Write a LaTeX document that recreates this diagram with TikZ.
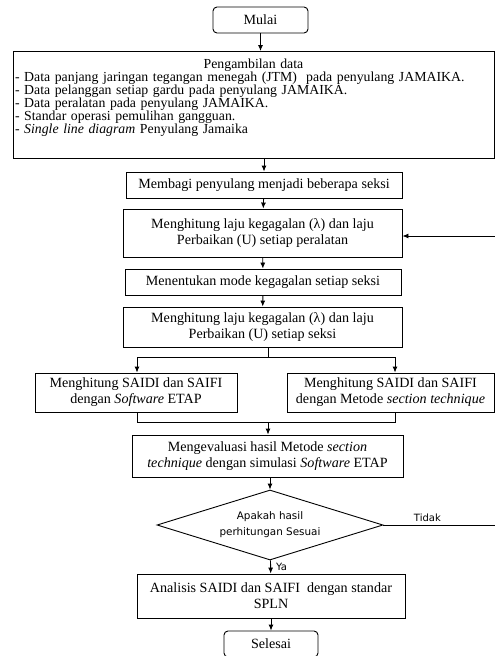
\documentclass[tikz,border=0pt]{standalone}
\usepackage{fontspec}
\setmainfont{Liberation Serif}
\newfontfamily\diafont{DejaVu Sans}
\usetikzlibrary{arrows.meta, shapes.geometric}

\tikzset{
  box/.style={draw, line width=0.9pt, align=center, inner sep=0pt, font=\fontsize{14.1}{16}\selectfont},
  term/.style={box, rounded corners=4pt},
  decide/.style={draw, line width=0.9pt, diamond, aspect=3.2, inner sep=0pt, align=center, font=\diafont\fontsize{10.4}{16}\selectfont},
  lbl/.style={font=\diafont\fontsize{10}{12}\selectfont, inner sep=1pt},
  arr/.style={line width=0.9pt, -{Latex[length=6pt,width=5pt]}},
  line/.style={line width=0.9pt},
}

\begin{document}
\begin{tikzpicture}[x=1pt, y=-1pt]
    \fill[white] (0,0) rectangle (495,656);
    \useasboundingbox (0,0) rectangle (495,656);

    % kotak-kotak diagram alir
    \node[term, minimum width=95pt, minimum height=26pt] (mulai) at (260.5,20) {Mulai};
    \node[box, anchor=north, text width=477pt, align=left, inner xsep=2pt, text height=17pt, text depth=90pt, font=\fontsize{13.8}{13}\selectfont] (data) at (253.5,51) {\makebox[477pt]{Pengambilan data}\\
        - Data panjang jaringan tegangan menegah (JTM)\ \ pada penyulang JAMAIKA.\\
        - Data pelanggan setiap gardu pada penyulang JAMAIKA.\\
        - Data peralatan pada penyulang JAMAIKA.\\
        - Standar operasi pemulihan gangguan.\\
        - \textit{Single line diagram} Penyulang Jamaika};
    \node[box, minimum width=276pt, minimum height=26pt] (membagi) at (264,185) {Membagi penyulang menjadi beberapa seksi};
    \node[box, minimum width=279pt, minimum height=48pt] (lajualat) at (262.5,233) {Menghitung laju kegagalan (λ) dan laju\\Perbaikan (U) setiap peralatan};
    \node[box, minimum width=276pt, minimum height=26pt] (mode) at (263,282) {Menentukan mode kegagalan setiap seksi};
    \node[box, minimum width=279pt, minimum height=40pt] (lajuseksi) at (262.5,327) {Menghitung laju kegagalan (λ) dan laju\\Perbaikan (U) setiap seksi};
    \node[box, minimum width=202pt, minimum height=39pt] (etap) at (136,392.5) {Menghitung SAIDI dan SAIFI\\dengan \textit{Software} ETAP};
    \node[box, minimum width=207pt, minimum height=39pt] (teknik) at (390.5,392.5) {Menghitung SAIDI dan SAIFI\\dengan Metode \textit{section technique}};
    \node[box, minimum width=271pt, minimum height=42pt] (evaluasi) at (267.5,456) {Mengevaluasi hasil Metode \textit{section}\\\textit{technique} dengan simulasi \textit{Software} ETAP};
    \node[decide, minimum width=226pt, minimum height=70pt] (sesuai) at (270,525) {Apakah hasil\\perhitungan Sesuai};
    \node[box, minimum width=268pt, minimum height=44pt] (analisis) at (271,596) {Analisis SAIDI dan SAIFI\ \ dengan standar\\SPLN};
    \node[term, minimum width=94pt, minimum height=26pt] (selesai) at (271,644) {Selesai};

    % titik bantu percabangan
    \coordinate (pisah) at (268,357);
    \coordinate (cabkiri) at (137,357);
    \coordinate (cabkanan) at (395,357);
    \coordinate (gabung) at (268,422);
    \coordinate (balik) at (499,236);

    % panah
    \draw[arr] (mulai) -- (mulai |- data.north);
    \draw[arr] (data.south -| membagi.north) -- (membagi.north);
    \draw[arr] (membagi) -- (lajualat);
    \draw[arr] (lajualat) -- (mode);
    \draw[arr] (mode) -- (lajuseksi);
    \draw[line] (pisah |- lajuseksi.south) -- (pisah);
    \draw[line] (cabkiri) -- (cabkanan);
    \draw[arr] (cabkiri) -- (cabkiri |- etap.north);
    \draw[arr] (cabkanan) -- (cabkanan |- teknik.north);
    \draw[line] (cabkiri |- etap.south) -- (cabkiri |- gabung) -- (cabkanan |- gabung) -- (cabkanan |- teknik.south);
    \draw[arr] (gabung) -- (gabung |- evaluasi.north);
    \draw[arr] (evaluasi.south -| sesuai.north) -- (sesuai.north);
    \draw[arr] (sesuai) -- node[lbl, right, xshift=4pt] {Ya} (analisis);
    \draw[arr] (analisis) -- (selesai);
    \draw[arr] (sesuai.east) -| node[lbl, above, pos=0.19, yshift=2pt] {Tidak} (balik) -- (lajualat.east |- balik);
\end{tikzpicture}
\end{document}
